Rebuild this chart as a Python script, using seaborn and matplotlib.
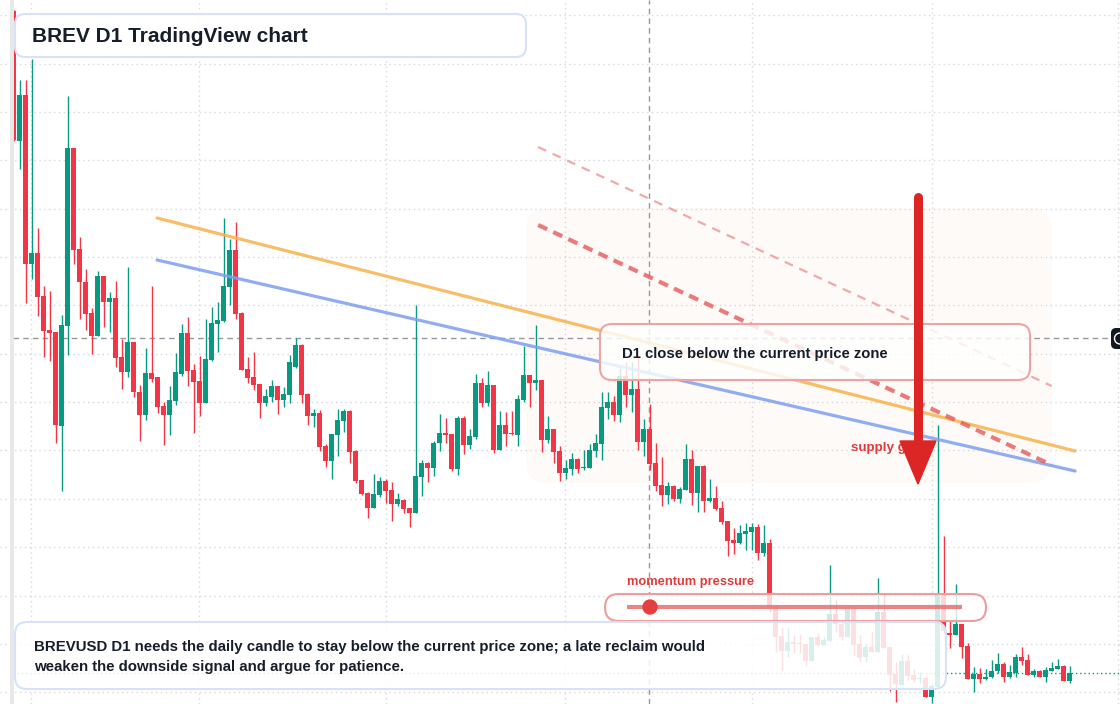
import numpy as np
import pandas as pd
import matplotlib
matplotlib.use("Agg")
import matplotlib.pyplot as plt
from matplotlib.colors import to_rgba
from matplotlib.patches import FancyBboxPatch, Polygon, Circle, Rectangle
import seaborn as sns

# BREVUSD daily candles, prices in thousandths of a dollar
opens = [709, 579, 625, 456, 467, 424, 390, 388, 294, 394, 572, 471, 438, 407, 384, 444, 418, 422, 363, 348,
         378, 328, 305, 347, 343, 314, 305, 319, 346, 387, 350, 339, 317, 360, 396, 399, 433, 470, 407, 351,
         343, 336, 317, 323, 334, 320, 325, 353, 375, 326, 304, 307, 274, 259, 285, 299, 309, 269, 240, 227,
         212, 225, 239, 230, 216, 220, 212, 207, 243, 257, 252, 277, 287, 286, 251, 302, 275, 283, 337, 317,
         335, 270, 295, 287, 285, 320, 345, 337, 340, 280, 291, 269, 247, 251, 261, 252, 252, 269, 276, 312,
         318, 305, 344, 325, 331, 278, 291, 257, 235, 225, 234, 221, 230, 261, 227, 254, 219, 222, 212, 199,
         180, 177, 186, 188, 193, 167, 177, 114, 84, 69, 78, 77, 76, 59, 83, 75, 79, 106, 96, 83,
         111, 76, 63, 73, 68, 108, 73, 46, 35, 59, 45, 41, 42, 23, 33, 126, 87, 85, 96, 74,
         41, 46, 41, 43, 49, 56, 43, 47, 63, 60, 45, 49, 43, 49, 51, 54, 39]
highs = [710, 640, 640, 661, 492, 434, 429, 388, 405, 624, 572, 483, 451, 412, 449, 444, 428, 439, 381, 453,
         378, 335, 372, 434, 343, 318, 334, 367, 396, 403, 356, 364, 401, 413, 418, 502, 481, 498, 408, 363,
         368, 336, 331, 340, 334, 333, 365, 382, 376, 327, 311, 310, 276, 286, 311, 311, 310, 270, 240, 228,
         246, 243, 241, 238, 227, 221, 212, 415, 260, 258, 279, 306, 302, 286, 304, 304, 291, 346, 342, 349,
         335, 309, 308, 309, 325, 374, 345, 395, 340, 304, 291, 274, 260, 267, 262, 270, 276, 286, 328, 328,
         324, 352, 358, 358, 365, 301, 316, 277, 263, 238, 235, 233, 276, 270, 254, 255, 241, 234, 219, 199,
         192, 195, 197, 197, 196, 195, 181, 114, 92, 92, 85, 86, 76, 83, 87, 83, 155, 120, 100, 113,
         113, 85, 76, 88, 142, 126, 73, 58, 66, 65, 51, 48, 44, 36, 295, 184, 99, 136, 96, 77,
         53, 52, 51, 60, 67, 58, 55, 66, 73, 66, 51, 50, 53, 58, 61, 55, 54]
lows = [579, 551, 417, 441, 404, 363, 359, 277, 229, 365, 456, 401, 390, 366, 384, 393, 388, 353, 331, 343,
        323, 279, 300, 338, 307, 275, 285, 315, 344, 334, 287, 304, 317, 359, 368, 398, 415, 401, 350, 337,
        330, 302, 314, 318, 306, 313, 317, 352, 317, 295, 293, 269, 253, 241, 264, 288, 257, 237, 225, 202,
        212, 223, 217, 199, 214, 207, 193, 207, 224, 238, 244, 269, 277, 249, 245, 266, 271, 281, 313, 314,
        267, 270, 274, 285, 274, 318, 313, 330, 268, 277, 257, 239, 241, 245, 247, 250, 252, 263, 260, 301,
        299, 298, 313, 308, 270, 264, 250, 229, 214, 216, 219, 217, 230, 215, 208, 208, 218, 210, 196, 164,
        166, 176, 170, 170, 160, 164, 108, 68, 50, 63, 67, 67, 54, 59, 74, 75, 79, 88, 80, 83,
        65, 58, 58, 68, 68, 72, 29, 18, 35, 40, 38, 37, 23, 17, 32, 86, 72, 85, 62, 41,
        28, 37, 40, 42, 47, 38, 42, 43, 55, 45, 43, 43, 38, 49, 51, 39, 37]
closes = [580, 625, 456, 467, 423, 389, 387, 295, 395, 572, 470, 438, 406, 384, 444, 418, 422, 362, 348, 378,
          328, 305, 347, 341, 313, 305, 320, 348, 387, 349, 338, 317, 361, 397, 400, 434, 470, 406, 350, 342,
          335, 317, 324, 334, 320, 326, 358, 375, 325, 304, 307, 273, 259, 286, 300, 309, 268, 239, 226, 212,
          226, 239, 229, 216, 221, 211, 207, 244, 257, 252, 277, 287, 285, 251, 302, 275, 284, 337, 317, 335,
          270, 295, 286, 286, 321, 345, 337, 340, 280, 291, 268, 247, 252, 261, 251, 253, 270, 277, 313, 318,
          305, 344, 325, 331, 278, 291, 256, 234, 225, 234, 221, 231, 261, 227, 254, 219, 222, 211, 198, 179,
          177, 187, 189, 193, 167, 177, 113, 83, 69, 78, 76, 76, 59, 83, 75, 80, 106, 96, 83, 111,
          75, 62, 73, 68, 108, 72, 45, 36, 59, 44, 40, 42, 23, 34, 126, 89, 85, 96, 73, 41,
          46, 41, 43, 49, 56, 43, 48, 63, 59, 45, 49, 43, 50, 52, 54, 39, 47]

# drawn levels / trend lines (candle index, price in thousandths)
resistance_upper = ([23.9, 176.9], [502, 269])
resistance_lower = ([23.9, 176.9], [460, 249])
bear_channel = ([87.4, 173.0], [495, 255])
bear_channel_outer = ([87.4, 173.0], [573, 334])
crosshair_day, crosshair_price = 105.9, 382
month_lines = [2.9, 30.9, 62.0, 91.9, 123.0, 153.0, 184.0]

GREEN = "#089981"
RED = "#f23645"
INK = "#161d2b"

df = pd.DataFrame({"open": opens, "high": highs, "low": lows, "close": closes}) / 1000
df["day"] = np.arange(len(df))

sns.set_theme(style="white")
plt.rcParams["font.family"] = ["Liberation Sans", "DejaVu Sans"]

W, H = 1120, 704
fig = plt.figure(figsize=(W / 100, H / 100), dpi=100)
ax = fig.add_axes([0, 0, 1, 1])
ax.set_xlim(-13.7 / 6, (W - 13.7) / 6)
ax.set_ylim(0.016, 0.720)
ax.axis("off")
px = fig.dpi_scale_trans  # layout helpers work in screen pixels / 100


def box(x0, y0, x1, y1, r, fc, ec, alpha, lw=1.5, z=6):
    p = FancyBboxPatch((x0 / 100, (H - y1) / 100), (x1 - x0) / 100, (y1 - y0) / 100,
                       boxstyle=f"round,pad=0,rounding_size={r / 100}", transform=px,
                       facecolor=to_rgba(fc, alpha), edgecolor=ec, lw=lw, zorder=z)
    ax.add_patch(p)


def label(x, y, s, size, color=INK, z=8):
    ax.text(x / 100, (H - y) / 100, s, transform=px, fontsize=size, fontweight="bold",
            color=color, va="center", ha="left", zorder=z)


# grid
for lvl in np.arange(704.7, 0, -48.35) / 1000:
    ax.axhline(lvl, color="#d6d8de", lw=1, ls=(0, (1, 2.5)), zorder=0)
for d in month_lines:
    ax.axvline(d, color="#d6d8de", lw=1, ls=(0, (1, 2.5)), zorder=0)

# supply zone
box(526, 208, 1052, 483, 22, "#f5a25d", "none", 0.045, lw=0, z=1)

# candles
up = df["close"] >= df["open"]
colors = np.where(up, GREEN, RED)
ax.vlines(df["day"], df["low"], df["high"], colors=colors, lw=1, zorder=3)
body_low = np.minimum(df["open"], df["close"])
body_h = np.maximum((df["close"] - df["open"]).abs(), 0.0013)
ax.bar(df["day"], body_h, bottom=body_low, width=0.8, color=colors, lw=0, zorder=4)

# last price and crosshair
ax.axhline(df["close"].iloc[-1], xmin=0.012, color=GREEN, lw=1, ls=(0, (1, 2)), zorder=2)
ax.axhline(crosshair_price / 1000, xmin=0.012, xmax=0.992, color="#9598a1", lw=1, ls=(0, (4, 3)), zorder=2)
ax.axvline(crosshair_day, color="#9598a1", lw=1, ls=(0, (4, 3)), zorder=2)

# trend lines
for (xs, ys), col, lw in [(resistance_upper, "#f7b24a", 2.3), (resistance_lower, "#7d9ff2", 2.3)]:
    sns.lineplot(x=xs, y=np.array(ys) / 1000, ax=ax, color=col, lw=lw, alpha=0.85, zorder=5)
sns.lineplot(x=bear_channel[0], y=np.array(bear_channel[1]) / 1000, ax=ax,
             color="#e65a5a", lw=3, alpha=0.8, zorder=5)
ax.lines[-1].set_dashes([2.4, 1.6])
sns.lineplot(x=bear_channel_outer[0], y=np.array(bear_channel_outer[1]) / 1000, ax=ax,
             color="#f09a9a", lw=1.6, alpha=0.85, zorder=5)
ax.lines[-1].set_dashes([4, 3.2])

# left edge strip
ax.add_patch(Rectangle((0.10, 0), 0.04, H / 100, transform=px, color="#e8e8e8", lw=0, zorder=9))

# annotation boxes
box(15, 14, 526, 57, 10, "white", "#d5e2f8", 0.9)
label(32, 36, "BREV D1 TradingView chart", 15)

box(600, 324, 1030, 380, 12, "white", "#f0a3a3", 0.82)
label(622, 354, "D1 close below the current price zone", 10.75)

label(851, 448, "supply gap", 9.6, color="#e03a3a", z=7)

label(627, 582, "momentum pressure", 9.3, color="#e03a3a")
box(605, 594, 986, 621, 13.5, "white", "#ef9c9c", 0.8)
ax.plot([627 / 100, 962 / 100], [(H - 607) / 100] * 2, transform=px, color="#e86f6f",
        lw=3, alpha=0.85, solid_capstyle="butt", zorder=7)
ax.add_patch(Circle((650 / 100, (H - 607) / 100), 0.07, transform=px, color="#e43f3f", zorder=8))

box(15, 622, 946, 689, 12, "white", "#d5e2f8", 0.85)
label(34, 647, "BREVUSD D1 needs the daily candle to stay below the current price zone; a late reclaim would", 10.8)
label(34, 667, "weaken the downside signal and argue for patience.", 10.8)

# down arrow
ax.plot([918 / 100, 918 / 100], [(H - 197) / 100, (H - 450) / 100], transform=px, color="#dc2626",
        lw=6.5, solid_capstyle="round", zorder=10)
ax.add_patch(Polygon([(900 / 100, (H - 441) / 100), (936 / 100, (H - 441) / 100), (918 / 100, (H - 484) / 100)],
                     closed=True, transform=px, color="#dc2626", zorder=10))

# crosshair button on the price axis
box(1111, 328, 1134, 349, 5, "#131722", "none", 1, lw=0, z=10)
ax.add_patch(Circle((1120 / 100, (H - 338.5) / 100), 0.055, transform=px, fill=False,
                    ec="white", lw=1, zorder=11))

fig.savefig("out.png", dpi=100)
